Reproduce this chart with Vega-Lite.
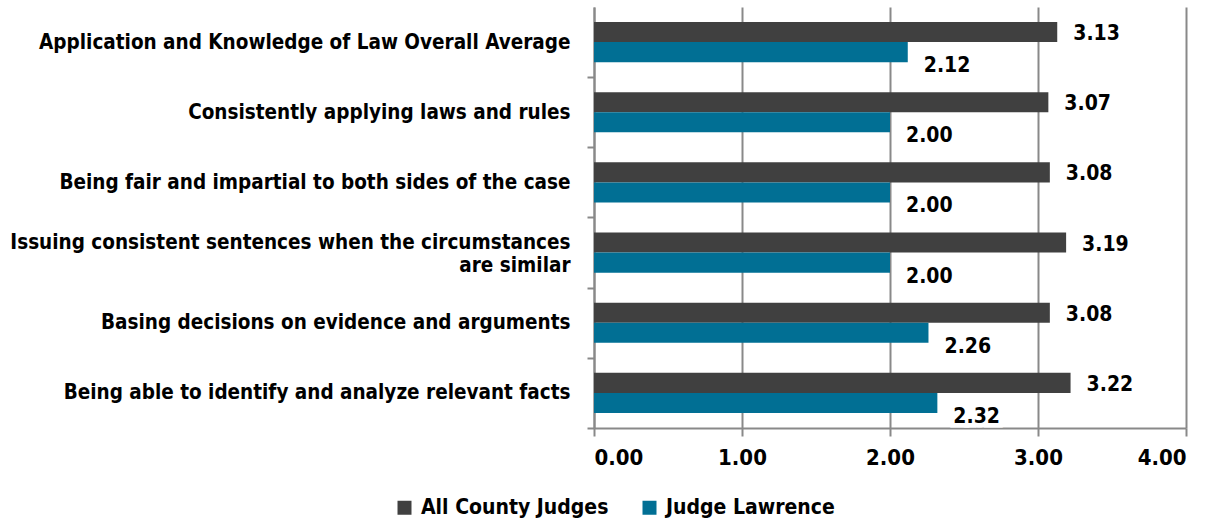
{
  "$schema": "https://vega.github.io/schema/vega-lite/v6.json",
  "width": 592,
  "height": 421,
  "autosize": {"type": "none"},
  "padding": {"left": 594, "top": 7, "right": 28, "bottom": 94},
  "config": {
    "font": "DejaVu Sans Condensed",
    "view": {"stroke": null},
    "axis": {"labelFont": "DejaVu Sans Condensed", "labelFontWeight": "bold", "labelColor": "#000000"},
    "legend": {"labelFont": "DejaVu Sans Condensed"}
  },
  "data": {
    "values": [
      {"category": "Application and Knowledge of Law Overall Average", "series": "All County Judges", "value": 3.13},
      {"category": "Application and Knowledge of Law Overall Average", "series": "Judge Lawrence", "value": 2.12},
      {"category": "Consistently applying laws and rules", "series": "All County Judges", "value": 3.07},
      {"category": "Consistently applying laws and rules", "series": "Judge Lawrence", "value": 2.00},
      {"category": "Being fair and impartial to both sides of the case", "series": "All County Judges", "value": 3.08},
      {"category": "Being fair and impartial to both sides of the case", "series": "Judge Lawrence", "value": 2.00},
      {"category": "Issuing consistent sentences when the circumstances are similar", "series": "All County Judges", "value": 3.19},
      {"category": "Issuing consistent sentences when the circumstances are similar", "series": "Judge Lawrence", "value": 2.00},
      {"category": "Basing decisions on evidence and arguments", "series": "All County Judges", "value": 3.08},
      {"category": "Basing decisions on evidence and arguments", "series": "Judge Lawrence", "value": 2.26},
      {"category": "Being able to identify and analyze relevant facts", "series": "All County Judges", "value": 3.22},
      {"category": "Being able to identify and analyze relevant facts", "series": "Judge Lawrence", "value": 2.32}
    ]
  },
  "encoding": {
    "y": {
      "field": "category",
      "type": "nominal",
      "sort": null,
      "title": null,
      "scale": {"paddingInner": 0, "paddingOuter": 0},
      "axis": {
        "domain": true,
        "domainColor": "#898989",
        "domainWidth": 2,
        "ticks": true,
        "tickSize": 7,
        "tickColor": "#898989",
        "tickWidth": 2,
        "tickOffset": 35,
        "labelOffset": -35,
        "grid": false,
        "labelFontSize": 20.5,
        "labelLimit": 0,
        "labelPadding": 17,
        "labelExpr": "indexof(datum.value, 'Issuing') == 0 ? ['Issuing consistent sentences when the circumstances', 'are similar\u00a0\u00a0\u00a0\u00a0\u00a0\u00a0\u00a0\u00a0\u00a0\u00a0\u00a0\u00a0\u00a0\u00a0\u00a0\u00a0\u00a0\u00a0\u00a0\u00a0\u00a0\u00a0\u00a0\u00a0\u00a0\u00a0\u00a0\u00a0\u00a0\u00a0\u00a0\u00a0\u00a0\u00a0\u00a0'] : datum.label",
        "labelBaseline": {"condition": {"test": "indexof(datum.value, 'Issuing') == 0", "value": "bottom"}, "value": "middle"}
      }
    },
    "yOffset": {
      "field": "series",
      "type": "nominal",
      "sort": ["All County Judges", "Judge Lawrence"],
      "scale": {"paddingInner": 0, "paddingOuter": 0.75}
    },
    "x": {
      "field": "value",
      "type": "quantitative",
      "title": null,
      "scale": {"domain": [0, 4], "nice": false},
      "axis": {
        "values": [0, 1, 2, 3, 4],
        "format": ".2f",
        "grid": true,
        "gridColor": "#898989",
        "gridWidth": 2,
        "domain": true,
        "domainColor": "#898989",
        "domainWidth": 2,
        "ticks": true,
        "tickSize": 8,
        "tickColor": "#898989",
        "tickWidth": 2,
        "labelFontSize": 22,
        "labelPadding": 11
      }
    }
  },
  "layer": [
    {
      "mark": {"type": "bar"},
      "encoding": {
        "color": {
          "field": "series",
          "type": "nominal",
          "sort": ["All County Judges", "Judge Lawrence"],
          "scale": {"domain": ["All County Judges", "Judge Lawrence"], "range": ["#404040", "#016f94"]},
          "legend": {
            "title": null,
            "orient": "none",
            "legendX": -200,
            "legendY": 490,
            "direction": "horizontal",
            "symbolType": "square",
            "symbolSize": 196,
            "labelFontSize": 21,
            "labelFontWeight": "bold",
            "labelColor": "#000000",
            "labelLimit": 0,
            "columnPadding": 30,
            "labelOffset": 6
          }
        }
      }
    },
    {
      "transform": [{"filter": "datum.series == 'All County Judges'"}],
      "mark": {"type": "text", "align": "left", "baseline": "middle", "dx": 16, "dy": 2, "fontSize": 21, "fontWeight": "bold", "color": "#000000"},
      "encoding": {
        "text": {"field": "value", "type": "quantitative", "format": ".2f"}
      }
    },
    {
      "transform": [{"filter": "datum.series == 'Judge Lawrence'"}],
      "mark": {"type": "text", "align": "left", "baseline": "middle", "dx": 16, "dy": 14, "fontSize": 21, "fontWeight": "bold", "fill": "#ffffff", "stroke": "#ffffff", "strokeWidth": 9},
      "encoding": {
        "text": {"field": "value", "type": "quantitative", "format": ".2f"}
      }
    },
    {
      "transform": [{"filter": "datum.series == 'Judge Lawrence'"}],
      "mark": {"type": "text", "align": "left", "baseline": "middle", "dx": 16, "dy": 14, "fontSize": 21, "fontWeight": "bold", "color": "#000000"},
      "encoding": {
        "text": {"field": "value", "type": "quantitative", "format": ".2f"}
      }
    }
  ]
}
